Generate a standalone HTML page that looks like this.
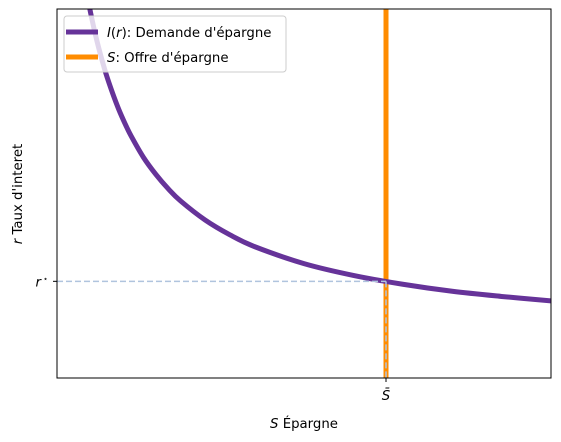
<!DOCTYPE html>
<html><head><meta charset="utf-8"><style>
body{margin:0;background:#fff}
svg{display:block;font-family:"DejaVu Sans","Liberation Sans",sans-serif}
</style></head><body>
<svg id="chart" width="561" height="442">
<defs><clipPath id="clip"><rect x="57" y="9" width="494" height="369"/></clipPath></defs>
<g id="plot" clip-path="url(#clip)"></g>
<rect x="57" y="9" width="494" height="369" fill="none" stroke="#000" stroke-width="1"/>
<g id="ticks"></g>
<text x="304" y="428" font-size="13.3" text-anchor="middle"><tspan font-style="italic">S</tspan> Épargne</text>
<text x="0" y="0" font-size="13.3" text-anchor="middle" transform="translate(22,194) rotate(-90)"><tspan font-style="italic">r</tspan> Taux d'interet</text>
<g>
<rect x="64" y="16" width="222" height="56" rx="3" fill="#fff" fill-opacity="0.8" stroke="#ccc"/>
<line x1="66" y1="32" x2="98" y2="32" stroke="#663399" stroke-width="5"/>
<text x="107" y="37" font-size="13.3"><tspan font-style="italic">I</tspan>(<tspan font-style="italic">r</tspan>): Demande d'épargne</text>
<line x1="66" y1="57" x2="98" y2="57" stroke="#ff8c00" stroke-width="5"/>
<text x="107" y="62" font-size="13.3"><tspan font-style="italic">S</tspan>: Offre d'épargne</text>
</g>
</svg>
<script>
const savingsS=[0.4,0.5,0.6,0.7,0.8,0.9,1.0,1.125,1.25,1.375,1.5,1.75,2,2.25,2.5,3,3.5,4,5,6,7,8,9,10];
const rateR=[12.18,11.25,10.45,9.77,9.18,8.67,8.21,7.72,7.28,6.90,6.56,5.98,5.52,5.13,4.80,4.28,3.88,3.56,3.10,2.78,2.54,2.35,2.21,2.09];
const supplyS=[6.66];
const equilibriumR=[2.62];
const xTickLabels=["S̄"];
const yTickLabels=["r"];
const xDom=[0,10],yDom=[0,10];
const X=v=>57+(v-xDom[0])/(xDom[1]-xDom[0])*494;
const Y=v=>378-(v-yDom[0])/(yDom[1]-yDom[0])*369;
const NS="http://www.w3.org/2000/svg";
const plot=document.getElementById('plot'),ticks=document.getElementById('ticks');
function mk(tag,attrs,parent){const e=document.createElementNS(NS,tag);for(const k in attrs)e.setAttribute(k,attrs[k]);parent.appendChild(e);return e;}
const pts=savingsS.map((s,i)=>[X(s),Y(rateR[i])]);
let d=`M${pts[0][0]},${pts[0][1]}`;
for(let i=0;i<pts.length-1;i++){const p0=pts[i-1]||pts[i],p1=pts[i],p2=pts[i+1],p3=pts[i+2]||p2;
d+=` C${p1[0]+(p2[0]-p0[0])/6},${p1[1]+(p2[1]-p0[1])/6} ${p2[0]-(p3[0]-p1[0])/6},${p2[1]-(p3[1]-p1[1])/6} ${p2[0]},${p2[1]}`;}
const sx=X(supplyS[0]),ry=Y(equilibriumR[0]);
const sup=mk('line',{x1:sx,y1:9,x2:sx,y2:378,stroke:'#ff8c00','stroke-width':5},plot);


const dem=mk('path',{d:d,fill:'none',stroke:'#663399','stroke-width':5,'stroke-linejoin':'round'},plot);


const h=mk('line',{x1:57,y1:ry,x2:sx,y2:ry,stroke:'#b0c4de','stroke-width':1.5,'stroke-dasharray':'6,3'},plot);


const v=mk('line',{x1:sx,y1:ry,x2:sx,y2:378,stroke:'#b0c4de','stroke-width':1.5,'stroke-dasharray':'6,3'},plot);


mk('line',{x1:sx,y1:378,x2:sx,y2:382,stroke:'#000'},ticks);
const xt=mk('text',{x:sx,y:400,'font-size':13.3,'text-anchor':'middle','font-style':'italic'},ticks);
xt.textContent=xTickLabels[0];


mk('line',{x1:53,y1:ry,x2:57,y2:ry,stroke:'#000'},ticks);
const yt=mk('text',{x:48,y:ry+5,'font-size':13.3,'text-anchor':'end','font-style':'italic'},ticks);
yt.textContent=yTickLabels[0];
const st=mk('tspan',{'font-size':8,dx:2,dy:-5,'font-style':'normal'},yt);
st.textContent='⋆';


</script>
</body></html>
